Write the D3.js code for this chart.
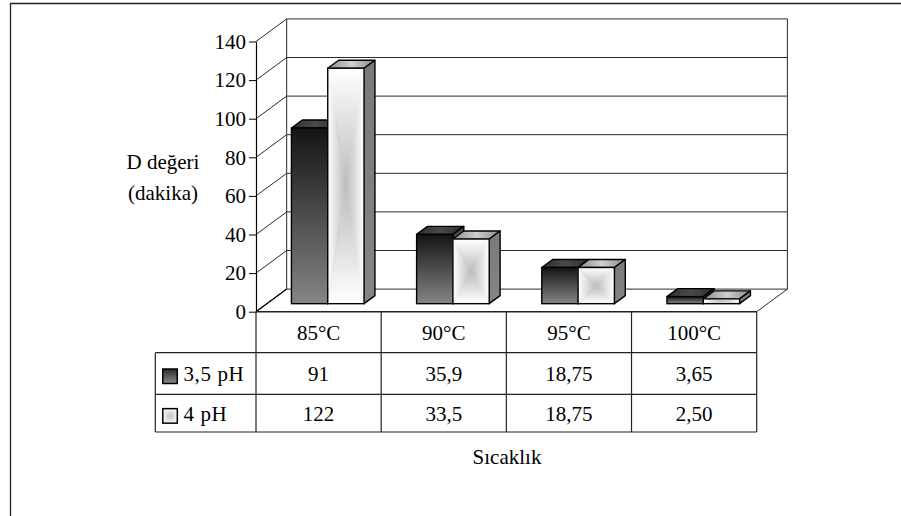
<!DOCTYPE html>
<html>
<head>
<meta charset="utf-8">
<script src="https://cdn.jsdelivr.net/npm/d3@7"></script>
<style>
  html, body { margin: 0; padding: 0; background: #fff; }
  svg { display: block; }
</style>
</head>
<body>
<svg id="chart" width="901" height="516"></svg>
<script>
// ---- data ----
const categories = ["85°C", "90°C", "95°C", "100°C"];
const seriesNames = ["3,5 pH", "4 pH"];
const values35 = [91, 35.9, 18.75, 3.65];
const values4 = [122, 33.5, 18.75, 2.50];
const labels35 = ["91", "35,9", "18,75", "3,65"];
const labels4 = ["122", "33,5", "18,75", "2,50"];
const yTicks = [0, 20, 40, 60, 80, 100, 120, 140];
const yTitle = ["D değeri", "(dakika)"];
const xTitle = "Sıcaklık";

const series = [
  { name: seriesNames[0], values: values35, labels: labels35, kind: "dark" },
  { name: seriesNames[1], values: values4, labels: labels4, kind: "light" }
];

// ---- layout ----
const FF = '"Liberation Serif"';
const FONT = 21;
const svg = d3.select("#chart");
function styleText(sel) {
  return sel.style("font-family", FF).style("font-size", FONT + "px").style("fill", "#000");
}
const x = d3.scaleBand().domain(categories).range([256, 756.7]).paddingInner(0).paddingOuter(0);
const y = d3.scaleLinear().domain([0, 140]).range([311.7, 41.5]);
const D = { x: 30.7, y: -22.6 };   // full depth vector of the 3D box
const f0 = 0.355, f1 = 0.71;        // bar depth range (fraction of box depth)
const bw = x.bandwidth();
const barW = bw * 0.29;
const barOff = bw * 0.196;

// ---- defs / gradients ----
const defs = svg.append("defs");
function linGrad(id, x1, y1, x2, y2, stops) {
  const g = defs.append("linearGradient").attr("id", id)
    .attr("x1", x1).attr("y1", y1).attr("x2", x2).attr("y2", y2);
  stops.forEach(s => g.append("stop").attr("offset", s[0]).attr("stop-color", s[1]));
}
linGrad("darkFront", 0, 0, 0, 1, [[0, "#141414"], [1, "#858585"]]);
linGrad("darkTop", 0, 0, 1, 0, [[0, "#2e2e2e"], [0.5, "#4a4a4a"], [1, "#2e2e2e"]]);
linGrad("darkSide", 0, 0, 0, 1, [[0, "#4a4a4a"], [1, "#6a6a6a"]]);
linGrad("lightTop", 0, 0, 1, 0, [[0, "#8a8a8a"], [0.5, "#cfcfcf"], [1, "#8a8a8a"]]);
linGrad("lightSide", 0, 0, 0, 1, [[0, "#7a7a7a"], [1, "#858585"]]);
linGrad("lgT", 0, 0, 0, 1, [[0, "#ffffff"], [1, "#bcbcbc"]]);
linGrad("lgB", 0, 1, 0, 0, [[0, "#ffffff"], [1, "#bcbcbc"]]);
linGrad("lgL", 0, 0, 1, 0, [[0, "#ffffff"], [1, "#bcbcbc"]]);
linGrad("lgR", 1, 0, 0, 0, [[0, "#ffffff"], [1, "#bcbcbc"]]);
linGrad("swDark", 0, 0, 0, 1, [[0, "#2a2a2a"], [1, "#8a8a8a"]]);

// ---- outer frame (cut off at right / bottom) ----
svg.append("path").attr("d", "M10.5,516 V3.5 H901")
  .attr("fill", "none").attr("stroke", "#222").attr("stroke-width", 1.3);

const G = svg.append("g");
const L = "#2a2a2a";

// ---- walls & gridlines ----
const xl = x.range()[0], xr = x.range()[1];
const grid = G.append("g");
yTicks.forEach(t => {
  grid.append("line")
    .attr("x1", xl).attr("y1", y(t)).attr("x2", xl + D.x).attr("y2", y(t) + D.y)
    .attr("stroke", L).attr("stroke-width", 1);
  grid.append("line")
    .attr("x1", xl + D.x).attr("y1", y(t) + D.y).attr("x2", xr + D.x).attr("y2", y(t) + D.y)
    .attr("stroke", L).attr("stroke-width", 1);
});
[xl, xr].forEach(xx => {
  grid.append("line")
    .attr("x1", xx + D.x).attr("y1", y(0) + D.y).attr("x2", xx + D.x).attr("y2", y(140) + D.y)
    .attr("stroke", L).attr("stroke-width", 1);
});
grid.append("line")
  .attr("x1", xr).attr("y1", y(0)).attr("x2", xr + D.x).attr("y2", y(0) + D.y)
  .attr("stroke", L).attr("stroke-width", 1);

// ---- bars ----
const barsG = G.append("g");
categories.forEach((c, ci) => {
  series.forEach((s, si) => {
    const v = s.values[ci];
    const x0 = x(c) + barOff + si * barW + f0 * D.x;
    const yT = y(v) + f0 * D.y;
    const yB = y(0) + f0 * D.y;
    const ddx = (f1 - f0) * D.x, ddy = (f1 - f0) * D.y;
    const w = barW;
    const g = barsG.append("g");
    const top = g.append("path")
      .attr("d", `M${x0},${yT} L${x0 + w},${yT} L${x0 + w + ddx},${yT + ddy} L${x0 + ddx},${yT + ddy} Z`)
      .attr("fill", s.kind === "dark" ? "url(#darkTop)" : "url(#lightTop)");
    const side = g.append("path")
      .attr("d", `M${x0 + w},${yT} L${x0 + w + ddx},${yT + ddy} L${x0 + w + ddx},${yB + ddy} L${x0 + w},${yB} Z`)
      .attr("fill", s.kind === "dark" ? "url(#darkSide)" : "url(#lightSide)");
    [top, side].forEach(p => p.attr("stroke", "#000").attr("stroke-width", 1.4).attr("stroke-linejoin", "round"));
    if (s.kind === "dark") {
      g.append("rect").attr("x", x0).attr("y", yT).attr("width", w).attr("height", yB - yT)
        .attr("fill", "url(#darkFront)").attr("stroke", "#000").attr("stroke-width", 1.4);
    } else {
      const cx = x0 + w / 2, cy = (yT + yB) / 2;
      const tris = [
        [[x0, yT], [x0 + w, yT], "lgT"],
        [[x0, yB], [x0 + w, yB], "lgB"],
        [[x0, yT], [x0, yB], "lgL"],
        [[x0 + w, yT], [x0 + w, yB], "lgR"]
      ];
      tris.forEach(t => {
        g.append("path")
          .attr("d", `M${t[0][0]},${t[0][1]} L${t[1][0]},${t[1][1]} L${cx},${cy} Z`)
          .attr("fill", `url(#${t[2]})`).attr("stroke", `url(#${t[2]})`).attr("stroke-width", 0.6);
      });
      g.append("rect").attr("x", x0).attr("y", yT).attr("width", w).attr("height", yB - yT)
        .attr("fill", "none").attr("stroke", "#000").attr("stroke-width", 1.4);
    }
  });
});

// floor left edge
G.append("line").attr("x1", xl).attr("y1", y(0)).attr("x2", xl + D.x).attr("y2", y(0) + D.y)
  .attr("stroke", "#000").attr("stroke-width", 1.2);

// ---- y axis ----
const yAxis = d3.axisLeft(y).tickValues(yTicks).tickSize(7).tickSizeOuter(0).tickPadding(3)
  .tickFormat(d3.format("d"));
const ax = G.append("g").attr("transform", `translate(${xl},0)`).call(yAxis);
ax.attr("font-family", null).attr("font-size", null);
ax.select(".domain").attr("stroke", "#000").attr("stroke-width", 1.2);
ax.selectAll(".tick line").attr("stroke", "#000").attr("stroke-width", 1);
styleText(ax.selectAll(".tick text"));

// y title
styleText(G.append("g").selectAll("text").data(yTitle).join("text")
  .attr("x", 163).attr("y", (d, i) => 161.7 + i * 31)
  .attr("dy", "0.35em").attr("text-anchor", "middle")
  .text(d => d));

// ---- data table ----
const T = G.append("g");
const tabTop = y(0), r1 = 352.7, r2 = 394.3, r3 = 432, tabLeft = 155.3;
const TL = "#222";
function hline(x1, x2, yy, sw) {
  T.append("line").attr("x1", x1).attr("x2", x2).attr("y1", yy).attr("y2", yy)
    .attr("stroke", TL).attr("stroke-width", sw || 1.2);
}
function vline(xx, y1, y2) {
  T.append("line").attr("x1", xx).attr("x2", xx).attr("y1", y1).attr("y2", y2)
    .attr("stroke", TL).attr("stroke-width", 1.2);
}
hline(xl, xr, tabTop, 1.4);
hline(tabLeft, xr, r1);
hline(tabLeft, xr, r2);
hline(tabLeft, xr, r3);
vline(tabLeft, r1, r3);
categories.forEach(c => vline(x(c), tabTop, r3));
vline(xr, tabTop, r3);

styleText(T.selectAll("text.hdr").data(categories).join("text").attr("class", "hdr")
  .attr("x", d => x(d) + bw / 2).attr("y", (tabTop + r1) / 2)
  .attr("dy", "0.35em").attr("text-anchor", "middle")
  .text(d => d));

const rowY = [(r1 + r2) / 2 + 0.5, (r2 + r3) / 2 + 0.5];
series.forEach((s, si) => {
  styleText(T.selectAll(`text.v${si}`).data(s.labels).join("text").attr("class", `v${si}`)
    .attr("x", (d, i) => x(categories[i]) + bw / 2).attr("y", rowY[si])
    .attr("dy", "0.35em").attr("text-anchor", "middle")
    .text(d => d));
  const sx = 162.8, sw = 14.5, sh = 14.5, syy = rowY[si] - 5;
  if (s.kind === "dark") {
    T.append("rect").attr("x", sx).attr("y", syy).attr("width", sw).attr("height", sh)
      .attr("fill", "url(#swDark)").attr("stroke", "#000").attr("stroke-width", 1.5);
  } else {
    const cx = sx + sw / 2, cy = syy + sh / 2;
    [[[sx, syy], [sx + sw, syy], "lgT"], [[sx, syy + sh], [sx + sw, syy + sh], "lgB"],
     [[sx, syy], [sx, syy + sh], "lgL"], [[sx + sw, syy], [sx + sw, syy + sh], "lgR"]].forEach(t => {
      T.append("path").attr("d", `M${t[0][0]},${t[0][1]} L${t[1][0]},${t[1][1]} L${cx},${cy} Z`)
        .attr("fill", `url(#${t[2]})`);
    });
    T.append("rect").attr("x", sx).attr("y", syy).attr("width", sw).attr("height", sh)
      .attr("fill", "none").attr("stroke", "#000").attr("stroke-width", 1.5);
  }
  styleText(T.append("text").attr("x", 183.5).attr("y", rowY[si]).attr("dy", "0.35em")
    .style("letter-spacing", "0.6px").text(s.name));
});

// x title
styleText(G.append("text").attr("x", 507).attr("y", 457).attr("dy", "0.35em")
  .attr("text-anchor", "middle").text(xTitle));
</script>
</body>
</html>
